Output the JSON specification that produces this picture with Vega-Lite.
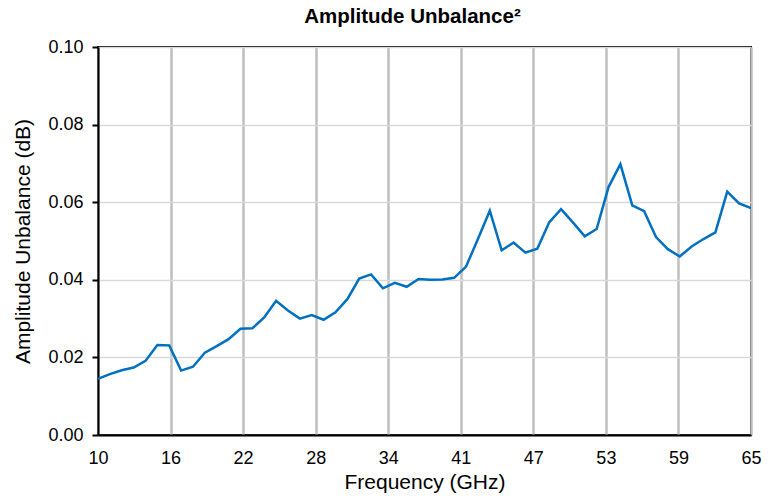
{
  "$schema": "https://vega.github.io/schema/vega-lite/v6.json",
  "autosize": "none",
  "width": 653,
  "height": 388,
  "padding": {"left": 98, "top": 47, "right": 27, "bottom": 63},
  "background": "white",
  "title": {
    "text": "Amplitude Unbalance²",
    "font": "Liberation Sans",
    "fontSize": 20.5,
    "fontWeight": "bold",
    "color": "black",
    "anchor": "middle",
    "frame": "group",
    "offset": 11,
    "dx": -12
  },
  "config": {
    "view": {"stroke": "black", "strokeWidth": 2},
    "axis": {"labelFont": "Liberation Sans", "titleFont": "Liberation Sans", "labelColor": "black", "titleColor": "black"}
  },
  "data": {
    "values": [
      {"f": 10, "v": 0.0145}, {"f": 11, "v": 0.0157}, {"f": 12, "v": 0.0167}, {"f": 13, "v": 0.0174},
      {"f": 14, "v": 0.0191}, {"f": 15, "v": 0.0232}, {"f": 16, "v": 0.0231}, {"f": 17, "v": 0.0166},
      {"f": 18, "v": 0.0176}, {"f": 19, "v": 0.0212}, {"f": 20, "v": 0.0229}, {"f": 21, "v": 0.0247},
      {"f": 22, "v": 0.0274}, {"f": 23, "v": 0.0275}, {"f": 24, "v": 0.0303}, {"f": 25, "v": 0.0346},
      {"f": 26, "v": 0.0321}, {"f": 27, "v": 0.0300}, {"f": 28, "v": 0.0309}, {"f": 29, "v": 0.0297},
      {"f": 30, "v": 0.0316}, {"f": 31, "v": 0.0350}, {"f": 32, "v": 0.0403}, {"f": 33, "v": 0.0414},
      {"f": 34, "v": 0.0378}, {"f": 35, "v": 0.0392}, {"f": 36, "v": 0.0382}, {"f": 37, "v": 0.0402},
      {"f": 38, "v": 0.0400}, {"f": 39, "v": 0.0401}, {"f": 40, "v": 0.0405}, {"f": 41, "v": 0.0434},
      {"f": 42, "v": 0.0505}, {"f": 43, "v": 0.0578}, {"f": 44, "v": 0.0476}, {"f": 45, "v": 0.0496},
      {"f": 46, "v": 0.0470}, {"f": 47, "v": 0.0480}, {"f": 48, "v": 0.0548}, {"f": 49, "v": 0.0582},
      {"f": 50, "v": 0.0548}, {"f": 51, "v": 0.0512}, {"f": 52, "v": 0.0531}, {"f": 53, "v": 0.0639},
      {"f": 54, "v": 0.0698}, {"f": 55, "v": 0.0592}, {"f": 56, "v": 0.0577}, {"f": 57, "v": 0.0510},
      {"f": 58, "v": 0.0479}, {"f": 59, "v": 0.0460}, {"f": 60, "v": 0.0486}, {"f": 61, "v": 0.0505},
      {"f": 62, "v": 0.0522}, {"f": 63, "v": 0.0627}, {"f": 64, "v": 0.0597}, {"f": 65, "v": 0.0585}
    ]
  },
  "mark": {"type": "line", "color": "#0070C0", "strokeWidth": 2.5, "clip": true},
  "encoding": {
    "x": {
      "field": "f",
      "type": "quantitative",
      "scale": {"domain": [10, 65], "nice": false, "zero": false},
      "axis": {
        "title": "Frequency (GHz)",
        "values": [10, 16.1111, 22.2222, 28.3333, 34.4444, 40.5556, 46.6667, 52.7778, 58.8889, 65],
        "format": ".0f",
        "labelFontSize": 18,
        "titleFontSize": 21,
        "titleFontWeight": "normal",
        "ticks": false,
        "labelPadding": 14,
        "titlePadding": 4,
        "domain": true,
        "domainColor": "black",
        "domainWidth": 2,
        "grid": true,
        "gridColor": "#bfbfbf",
        "gridWidth": 2.5,
        "labelFlush": false
      }
    },
    "y": {
      "field": "v",
      "type": "quantitative",
      "scale": {"domain": [0, 0.1], "nice": false},
      "axis": {
        "title": "Amplitude Unbalance (dB)",
        "values": [0, 0.02, 0.04, 0.06, 0.08, 0.1],
        "format": ".2f",
        "labelFontSize": 18,
        "titleFontSize": 21,
        "titleFontWeight": "normal",
        "ticks": true,
        "tickColor": "black",
        "tickWidth": 2,
        "tickSize": 6,
        "labelPadding": 9,
        "titlePadding": 14,
        "domain": true,
        "domainColor": "black",
        "domainWidth": 2,
        "grid": true,
        "gridColor": "#d9d9d9",
        "gridWidth": 1.5
      }
    }
  }
}
